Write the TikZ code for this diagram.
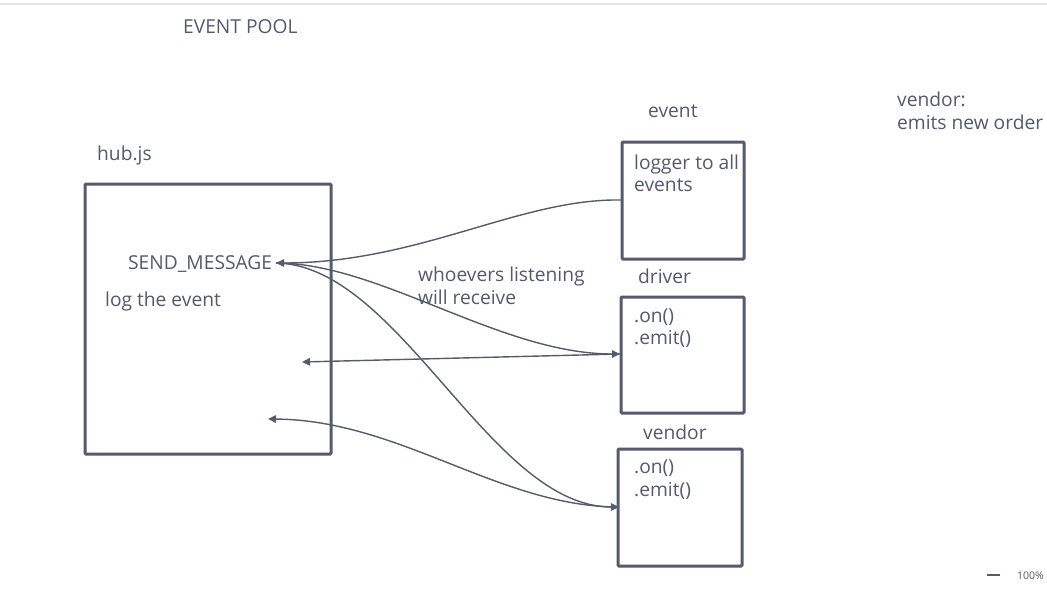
\documentclass[tikz,border=0pt]{standalone}
\usepackage{fontspec}
\setmainfont{Open Sans}
\usetikzlibrary{arrows.meta}
\definecolor{ink}{HTML}{555B6C}
\definecolor{txt}{HTML}{545A6B}
\definecolor{rule}{HTML}{E6E6E6}
\begin{document}
\begin{tikzpicture}[x=1pt,y=-1pt,
  box/.style={draw=ink,line width=3pt,rounded corners=1pt},
  lbl/.style={anchor=base west,inner sep=0pt,text=txt,font=\fontsize{19.2}{22}\selectfont},
  conn/.style={draw=ink,line width=1.4pt,-{Triangle[length=8pt,width=7.5pt]}},
  connb/.style={draw=ink,line width=1.4pt,{Triangle[length=8pt,width=7.5pt]}-}]
\useasboundingbox[fill=white] (0,0) rectangle (1047,608);
\draw[rule,line width=1.2pt] (0,4) -- (1047,4);
\node[lbl] (title) at (183,33) {EVENT POOL};
% hub
\node[lbl] (hubl) at (97,160) {hub.js};
\draw[box] (85,184) rectangle (331,454);
\node[lbl] (send) at (128,269) {SEND\_MESSAGE};
\coordinate (sendtip) at (276,263);
\node[lbl] (log) at (105,306) {log the event};
\coordinate (hubin1) at (302,362);
\coordinate (hubin2) at (268,419);
% event
\node[lbl] (evl) at (648,117) {event};
\draw[box] (622,142) rectangle (744,259);
\node[lbl] (ev1) at (634,169) {logger to all};
\node[lbl] (ev2) at (634,191) {events};
\coordinate (evin) at (622,200);
% driver
\node[lbl] (drl) at (638,283) {driver};
\draw[box] (621,297) rectangle (744,413);
\node[lbl] (dr1) at (634,322) {.on()};
\node[lbl] (dr2) at (634,344) {.emit()};
\coordinate (drin) at (620,354);
% vendor
\node[lbl] (vel) at (643,439) {vendor};
\draw[box] (618,449) rectangle (742,566);
\node[lbl] (ve1) at (634,473) {.on()};
\node[lbl] (ve2) at (634,496) {.emit()};
\coordinate (vein) at (619,507);
% notes
\node[lbl] (w1) at (418,281) {whoevers listening};
\node[lbl] (w2) at (418,304) {will receive};
\node[lbl] (n1) at (897,106) {vendor:};
\node[lbl] (n2) at (897,129) {emits new order};
% connectors
\draw[conn] (evin) .. controls (520,198) and (420,263) .. (sendtip);
\draw[conn] (sendtip) .. controls (380,263) and (500,354) .. (drin);
\draw[conn] (sendtip) .. controls (400,265) and (490,507) .. (vein);
\draw[connb] (hubin1) -- (drin);
\draw[connb] (hubin2) .. controls (400,420) and (500,507) .. (vein);
% zoom indicator
\draw[ink,line width=2pt] (987,575) -- (1000,575);
\node[anchor=base west,inner sep=0pt,text=txt,font=\fontsize{10.5}{12}\selectfont] (zoom) at (1017,579) {100\%};
\end{tikzpicture}
\end{document}
